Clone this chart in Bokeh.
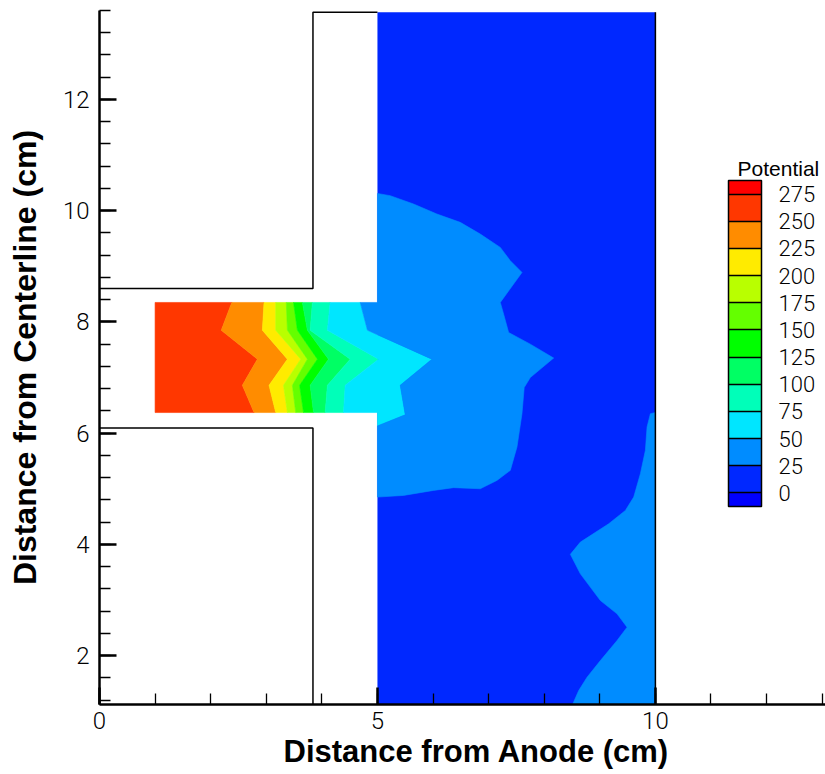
import numpy as np
from bokeh.plotting import figure
from bokeh.models import (ColumnDataSource, ColorBar, LinearColorMapper,
                          FixedTicker, Label, Range1d, Title)
from bokeh.embed import file_html
from bokeh.resources import INLINE

# Potential contour levels (V) and the fill colour of every band:
# below 0, 0-25, 25-50, ..., 250-275, above 275
levels = [0, 25, 50, 75, 100, 125, 150, 175, 200, 225, 250, 275]
band_colors = ["#0000FF", "#0028FF", "#008CFF", "#00E6FF", "#00FFB9", "#00FF64",
               "#00FF00", "#64FF00", "#B9FF00", "#FFEB00", "#FF8C00", "#FF3700",
               "#FF0000"]

# Geometry of the thruster section (cm)
x_axis_end = 13.06
y_min, y_max = 1.12, 13.6
domain_top = 13.57
channel_x = [1.0, 5.0]
channel_y = [6.37, 8.35]
plume_x = [5.0, 10.0]
anode_face_x = 3.84
upper_wall_y = 8.6
lower_wall_y = 6.09

# Contour lines across the discharge channel, sampled on the grid rows (top to bottom)
row_y = [8.35, 7.85, 7.33, 6.86, 6.37]
c250_x = [2.38, 2.19, 2.84, 2.57, 2.78]
c225_x = [2.96, 2.93, 3.38, 3.05, 3.17]
c200_x = [3.17, 3.17, 3.62, 3.31, 3.38]
c175_x = [3.36, 3.38, 3.74, 3.47, 3.53]
c150_x = [3.49, 3.56, 3.92, 3.60, 3.67]
c125_x = [3.65, 3.74, 4.12, 3.79, 3.85]
c100_x = [3.83, 3.79, 4.51, 4.10, 4.06]
c75_x = [4.15, 4.10, 5.02, 4.42, 4.39]

# 50 V line: leaves the channel and closes on the exit plane below it
c50_x = [4.69, 4.82, 5.98, 5.41, 5.50, 5.00]
c50_y = [8.35, 7.85, 7.33, 6.86, 6.33, 6.13]

# 25 V line around the plume core, exit plane above the channel to exit plane below
c25_x = [5.00, 5.23, 5.65, 6.07, 6.49, 6.85, 7.21, 7.39, 7.60, 7.21, 7.27, 7.36,
         7.75, 8.17, 7.75, 7.64, 7.60, 7.51, 7.39, 7.15, 6.85, 6.37, 6.01, 5.47, 5.00]
c25_y = [10.31, 10.27, 10.12, 9.94, 9.79, 9.58, 9.34, 9.10, 8.89, 8.35, 8.14, 7.81,
         7.60, 7.35, 7.00, 6.82, 6.35, 5.75, 5.33, 5.15, 5.00, 5.02, 4.97, 4.88, 4.85]

# 25 V line of the outer lobe near the downstream boundary
c25r_x = [10.00, 9.91, 9.85, 9.82, 9.73, 9.61, 9.46, 9.16, 8.65, 8.47, 8.65, 9.01,
          9.31, 9.49, 9.31, 9.01, 8.77, 8.62, 8.51]
c25r_y = [6.37, 6.35, 6.11, 5.69, 5.27, 4.85, 4.61, 4.37, 4.04, 3.82, 3.47, 2.99,
          2.75, 2.51, 2.27, 1.91, 1.61, 1.37, 1.12]

# ---- filled bands -------------------------------------------------------
xs, ys, cols = [], [], []

# 250-275 V: from the channel inlet to the 250 V line
xs.append([channel_x[0]] + c250_x + [channel_x[0]])
ys.append([row_y[0]] + row_y + [row_y[-1]])
cols.append(band_colors[11])

channel_lines = [c250_x, c225_x, c200_x, c175_x, c150_x, c125_x, c100_x, c75_x]
for i in range(len(channel_lines) - 1):
    hi, lo = channel_lines[i], channel_lines[i + 1]
    xs.append(hi + lo[::-1])
    ys.append(row_y + row_y[::-1])
    cols.append(band_colors[10 - i])

# 50-75 V
xs.append(c75_x + [channel_x[1]] + c50_x[::-1])
ys.append(row_y + [channel_y[0]] + c50_y[::-1])
cols.append(band_colors[3])

# 25-50 V, plume core
xs.append(c50_x + c25_x[::-1] + [channel_x[1]])
ys.append(c50_y + c25_y[::-1] + [channel_y[1]])
cols.append(band_colors[2])

# 25-50 V, outer lobe
xs.append(c25r_x + [plume_x[1]])
ys.append(c25r_y + [y_min])
cols.append(band_colors[2])

bands = ColumnDataSource(dict(xs=xs, ys=ys, color=cols))

TICK_FONT = "Roboto Light, Liberation Sans"

p = figure(frame_width=726, frame_height=694,
           x_range=Range1d(0, x_axis_end), y_range=Range1d(y_min, y_max),
           output_backend="svg", toolbar_location=None,
           min_border_left=99, min_border_right=0, min_border_top=10,
           min_border_bottom=70)
p.outline_line_color = None
p.xgrid.visible = False
p.ygrid.visible = False
p.background_fill_color = "white"

# plume region, 0-25 V background
p.quad(left=plume_x[0], right=plume_x[1], bottom=y_min, top=domain_top,
       fill_color=band_colors[1], line_color=None)
p.patches("xs", "ys", source=bands, fill_color="color", line_color="color",
          line_width=0.6)

# electrode / wall outlines
p.multi_line(xs=[[0, anode_face_x, anode_face_x, plume_x[0]],
                 [0, anode_face_x, anode_face_x],
                 [plume_x[1], plume_x[1]]],
             ys=[[upper_wall_y, upper_wall_y, domain_top, domain_top],
                 [lower_wall_y, lower_wall_y, y_min],
                 [y_min, domain_top]],
             line_color="black", line_width=1.5)

# ---- axes ---------------------------------------------------------------
p.xaxis.ticker = FixedTicker(ticks=[0, 5, 10], minor_ticks=list(range(0, 14)))
p.yaxis.ticker = FixedTicker(ticks=[2, 4, 6, 8, 10, 12],
                             minor_ticks=[round(1.2 + 0.4 * k, 1) for k in range(32)])
for ax in (p.xaxis[0], p.yaxis[0]):
    ax.axis_line_width = 2.5
    ax.axis_line_color = "black"
    ax.major_tick_in = 17
    ax.major_tick_out = 0
    ax.minor_tick_in = 11
    ax.minor_tick_out = 0
    ax.major_tick_line_width = 2.5
    ax.minor_tick_line_width = 1.3
    ax.major_tick_line_color = "black"
    ax.minor_tick_line_color = "black"
    ax.major_label_text_font = TICK_FONT
    ax.major_label_text_font_size = "24px"
    ax.major_label_text_color = "black"
p.xaxis.major_label_standoff = 7
p.yaxis.major_label_standoff = 10

p.yaxis.axis_label = "Distance from Centerline (cm)"
p.yaxis.axis_label_text_font = "Liberation Sans"
p.yaxis.axis_label_text_font_size = "32px"
p.yaxis.axis_label_text_font_style = "bold"
p.yaxis.axis_label_text_color = "black"
p.yaxis.axis_label_standoff = 17

p.add_layout(Title(text="Distance from Anode (cm)", align="left", offset=184,
                   standoff=0, text_font="Liberation Sans", text_font_size="31px",
                   text_font_style="bold", text_color="black"), "below")

# ---- legend -------------------------------------------------------------
legend_palette = ([band_colors[0]] + [c for c in band_colors[1:-1] for _ in range(2)]
                  + [band_colors[-1]])
mapper = LinearColorMapper(palette=legend_palette, low=levels[0] - 12.5,
                           high=levels[-1] + 12.5)
cb = ColorBar(color_mapper=mapper, ticker=FixedTicker(ticks=levels),
              width=33, height=326, location=(629, 198), padding=0,
              bar_line_color="black", bar_line_width=1.5,
              major_tick_in=33, major_tick_out=0,
              major_tick_line_color="black", major_tick_line_width=1.5,
              minor_tick_line_color=None, label_standoff=17,
              major_label_text_font=TICK_FONT, major_label_text_align="left",
              major_label_text_font_size="22px", major_label_text_color="black",
              background_fill_color=None, border_line_color=None)
p.add_layout(cb)
p.add_layout(Label(x=638, y=536, x_units="screen", y_units="screen",
                   text="Potential", text_font="Liberation Sans",
                   text_font_size="21px", text_baseline="alphabetic",
                   text_color="black"))

open("out.html", "w").write(file_html(p, INLINE))
